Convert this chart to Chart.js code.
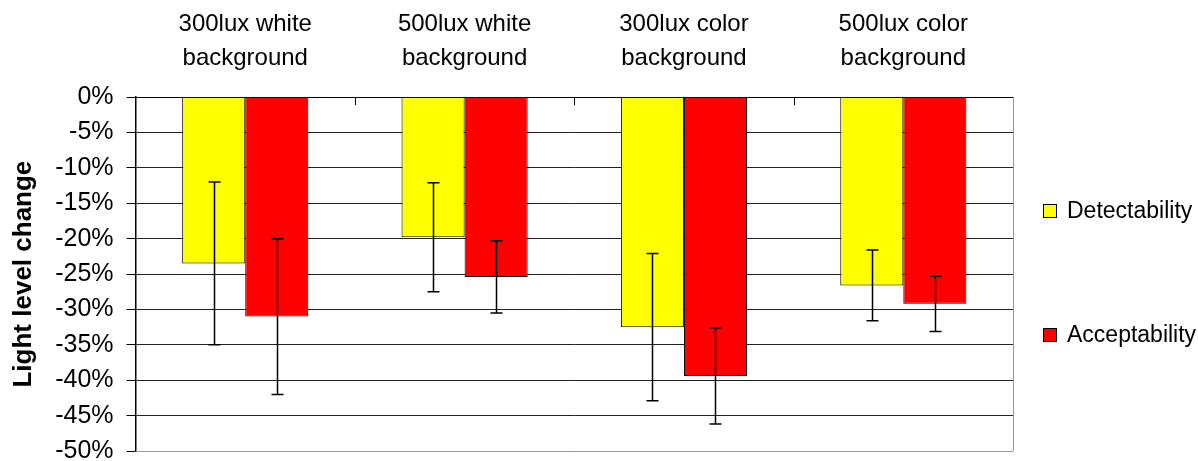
<!DOCTYPE html>
<html>
<head>
<meta charset="utf-8">
<script src="https://cdn.jsdelivr.net/npm/chart.js@4/dist/chart.umd.min.js"></script>
<style>
html,body{margin:0;padding:0;background:#fff;overflow:hidden;}
#wrap{width:1198px;height:461px;position:relative;overflow:hidden;}
#inner{position:absolute;left:0;top:-20px;width:1198px;height:499px;}
</style>
</head>
<body>
<div id="wrap"><div id="inner"><canvas id="c"></canvas></div></div>
<script>
const categories = [
  ["300lux white", "background"],
  ["500lux white", "background"],
  ["300lux color", "background"],
  ["500lux color", "background"]
];
const seriesNames = ["Detectability", "Acceptability"];
const detectability = [-23.5, -19.8, -32.5, -26.6];
const acceptability = [-31.0, -25.4, -39.4, -29.2];
const detectabilityErr = [11.5, 7.7, 10.4, 5.0];
const acceptabilityErr = [11.0, 5.1, 6.8, 3.9];
const yTicks = [0, -5, -10, -15, -20, -25, -30, -35, -40, -45, -50];

const FONT = "Arial, 'Liberation Sans', sans-serif";

const errorBars = {
  id: 'errorBars',
  afterDatasetsDraw(chart) {
    const ctx = chart.ctx;
    const y = chart.scales.y;
    const errs = [detectabilityErr, acceptabilityErr];
    ctx.save();
    ctx.strokeStyle = '#000';
    ctx.lineWidth = 1.5;
    chart.data.datasets.forEach((ds, di) => {
      const meta = chart.getDatasetMeta(di);
      meta.data.forEach((bar, i) => {
        const v = ds.data[i], e = errs[di][i];
        const x = Math.round(bar.x) + 0.5;
        const yt = y.getPixelForValue(v + e);
        const yb = y.getPixelForValue(v - e);
        ctx.beginPath();
        ctx.moveTo(x, yt); ctx.lineTo(x, yb);
        ctx.moveTo(x - 6, yt); ctx.lineTo(x + 6, yt);
        ctx.moveTo(x - 6, yb); ctx.lineTo(x + 6, yb);
        ctx.stroke();
      });
    });
    ctx.restore();
  }
};

const frame = {
  id: 'frame',
  beforeDatasetsDraw(chart) {
    const ctx = chart.ctx, a = chart.chartArea, x = chart.scales.x;
    ctx.save();
    ctx.strokeStyle = '#999';
    ctx.lineWidth = 1;
    ctx.beginPath();
    ctx.moveTo(a.right + 0.5, a.top); ctx.lineTo(a.right + 0.5, a.bottom);
    ctx.moveTo(a.left, a.bottom + 0.5); ctx.lineTo(a.right, a.bottom + 0.5);
    ctx.stroke();
    ctx.strokeStyle = '#000';
    ctx.beginPath();
    for (let i = 1; i < categories.length; i++) {
      const xm = Math.round((x.getPixelForTick(i - 1) + x.getPixelForTick(i)) / 2) + 0.5;
      ctx.moveTo(xm, a.top); ctx.lineTo(xm, a.top + 8);
    }
    ctx.stroke();
    ctx.restore();
  }
};

const legendPlugin = {
  id: 'sideLegend',
  afterDraw(chart) {
    const ctx = chart.ctx, a = chart.chartArea;
    const cy = (a.top + a.bottom) / 2;
    const ys = [cy - 63, cy + 61];
    ctx.save();
    ctx.font = "23px " + FONT;
    ctx.textBaseline = 'middle';
    ctx.fillStyle = '#000';
    chart.data.datasets.forEach((ds, i) => {
      const bx = a.right + 30, by = Math.round(ys[i] - 7);
      ctx.fillStyle = ds.backgroundColor;
      ctx.fillRect(bx, by, 14, 14);
      ctx.strokeStyle = '#000';
      ctx.lineWidth = 1;
      ctx.strokeRect(bx + 0.5, by + 0.5, 13, 13);
      ctx.fillStyle = '#000';
      ctx.fillText(ds.label, bx + 24, ys[i] + 1);
    });
    ctx.restore();
  }
};

new Chart(document.getElementById('c'), {
  type: 'bar',
  data: {
    labels: categories,
    datasets: [
      { label: seriesNames[0], data: detectability, backgroundColor: '#FFFF00', borderColor: '#000', borderWidth: 1 },
      { label: seriesNames[1], data: acceptability, backgroundColor: '#FF0000', borderColor: '#000', borderWidth: 1 }
    ]
  },
  options: {
    responsive: true,
    maintainAspectRatio: false,
    animation: false,
    layout: { padding: { left: 8, right: 185, top: 6, bottom: 0 } },
    datasets: { bar: { barPercentage: 1.0, categoryPercentage: 0.575 } },
    plugins: { legend: { display: false }, tooltip: { enabled: false } },
    scales: {
      x: {
        position: 'top',
        grid: { display: false, drawTicks: false },
        border: { display: true, color: '#000', width: 1 },
        ticks: { color: '#000', padding: 22, autoSkip: false, font: { family: FONT, size: 24, lineHeight: 1.4 }, maxRotation: 0 }
      },
      y: {
        min: -50, max: 0,
        afterBuildTicks(scale) { scale.ticks = yTicks.map(v => ({ value: v })); },
        grid: { color: '#222', lineWidth: 1, tickLength: 9, tickColor: '#000' },
        border: { display: true, color: '#000', width: 1.5 },
        ticks: { color: '#000', padding: 13, autoSkip: false, font: { family: FONT, size: 25 }, callback: v => v + '%' },
        title: { display: true, text: 'Light level change', color: '#000', padding: { top: 0, bottom: 3 }, font: { family: FONT, size: 26, weight: 'bold' } }
      }
    }
  },
  plugins: [frame, errorBars, legendPlugin]
});
</script>
</body>
</html>
